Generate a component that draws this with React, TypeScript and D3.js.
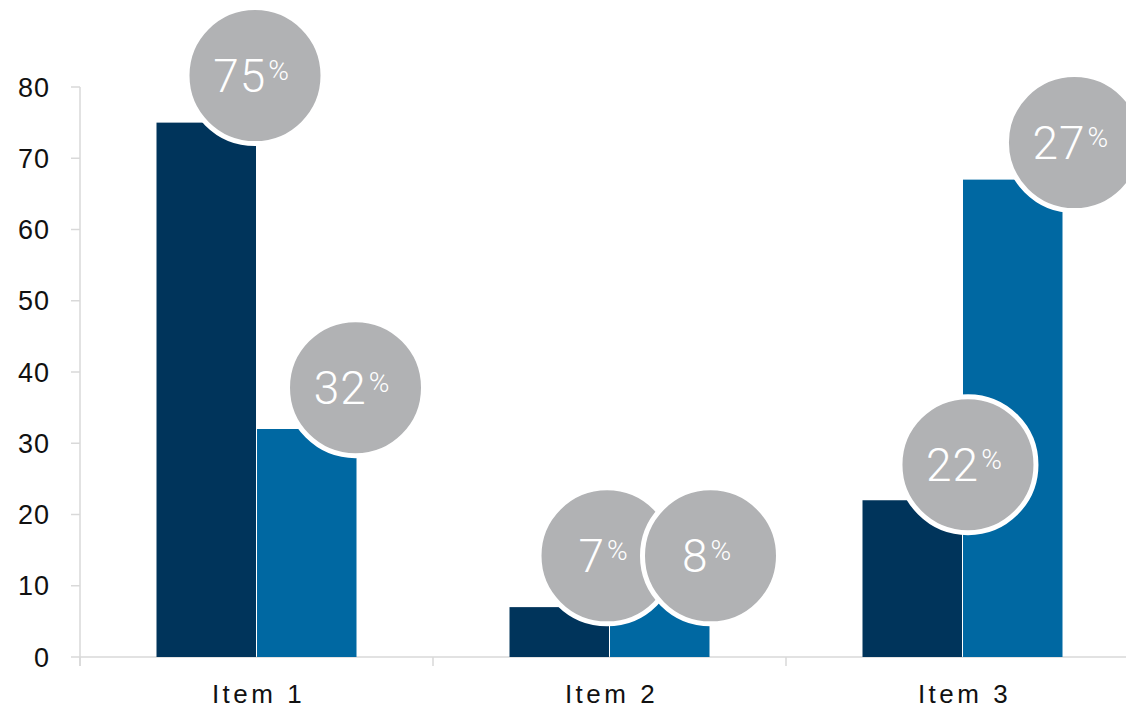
import React from "react";
import * as d3 from "d3";

const categories = ["Item 1", "Item 2", "Item 3"];
const seriesA = [75, 7, 22];
const seriesB = [32, 8, 67];
const labelsA = ["75", "7", "22"];
const labelsB = ["32", "8", "27"];
// label bubble anchor heights (data units) and horizontal shift (fraction of bar width)
const labelYA = [81.6, 14.2, 27.0];
const labelYB = [37.8, 14.2, 72.2];
const labelDxA = [-0.01, -0.02, 0.06];
const labelDxB = [-0.01, 0.01, 0.12];
const yTicks = [0, 10, 20, 30, 40, 50, 60, 70, 80];

const W = 1126;
const H = 709;
const colorA = "#00345b";
const colorB = "#0068a2";
const bubble = "#b1b2b4";
const axisColor = "#d9d9d9";

export default function App() {
  const x0 = d3.scaleBand<string>().domain(categories).range([80, 1139]).padding(0);
  const groupW = 200;
  const x1 = d3
    .scaleBand<number>()
    .domain([0, 1])
    .range([(x0.bandwidth() - groupW) / 2, (x0.bandwidth() + groupW) / 2])
    .paddingInner(0.01);
  const y = d3.scaleLinear().domain([0, 80]).range([657, 87]);
  const font = "'Liberation Sans', Arial, Helvetica, sans-serif";

  const bars: { x: number; y: number; w: number; h: number; c: string }[] = [];
  const bubbles: { cx: number; cy: number; label: string }[] = [];
  categories.forEach((cat, i) => {
    const base = x0(cat)!;
    [seriesA, seriesB].forEach((s, k) => {
      const bx = base + x1(k)!;
      bars.push({ x: bx, y: y(s[i]), w: x1.bandwidth(), h: y(0) - y(s[i]), c: k === 0 ? colorA : colorB });
      const ly = k === 0 ? labelYA[i] : labelYB[i];
      const dx = k === 0 ? labelDxA[i] : labelDxB[i];
      bubbles.push({
        cx: bx + x1.bandwidth() + dx * x1.bandwidth(),
        cy: y(ly),
        label: k === 0 ? labelsA[i] : labelsB[i],
      });
    });
  });

  const boundaries = [...categories.map((c) => x0(c)!), x0.range()[1]];

  return (
    <svg
      width={W}
      height={H}
      style={{ position: "absolute", left: 0, top: 0, background: "#fff" }}
      fontFamily={font}
    >
      {/* axes */}
      <line x1={80} x2={80} y1={y(80)} y2={666} stroke={axisColor} strokeWidth={1.5} />
      <line x1={80} x2={W} y1={y(0)} y2={y(0)} stroke={axisColor} strokeWidth={1.5} />
      {yTicks.map((t) => (
        <g key={t}>
          <line x1={71} x2={80} y1={y(t)} y2={y(t)} stroke={axisColor} strokeWidth={1.5} />
          <text x={50} y={y(t)} dy="0.36em" textAnchor="end" fontSize={27} fill="#111" letterSpacing={1}>
            {t}
          </text>
        </g>
      ))}
      {boundaries.map((b, i) => (
        <line key={i} x1={b} x2={b} y1={y(0)} y2={666} stroke={axisColor} strokeWidth={1.5} />
      ))}
      {categories.map((c) => (
        <text
          key={c}
          x={x0(c)! + x0.bandwidth() / 2 + 2}
          y={703}
          textAnchor="middle"
          fontSize={26}
          letterSpacing={3.5}
          fill="#111"
        >
          {c}
        </text>
      ))}
      {bars.map((b, i) => (
        <rect key={i} x={b.x} y={b.y} width={b.w} height={b.h} fill={b.c} />
      ))}
      {bubbles.map((b, i) => (
        <g key={i}>
          <circle cx={b.cx} cy={b.cy} r={68} fill={bubble} stroke="#fff" strokeWidth={5} />
          <text
            x={b.cx - 4}
            y={b.cy + 16}
            textAnchor="middle"
            fill="#fff"
            fontFamily="Roboto, 'Liberation Sans', sans-serif"
            fontWeight={300}
          >
            <tspan fontSize={46} letterSpacing={1}>{b.label}</tspan>
            <tspan fontSize={28} dx={2} dy={-12}>%</tspan>
          </text>
        </g>
      ))}
    </svg>
  );
}
